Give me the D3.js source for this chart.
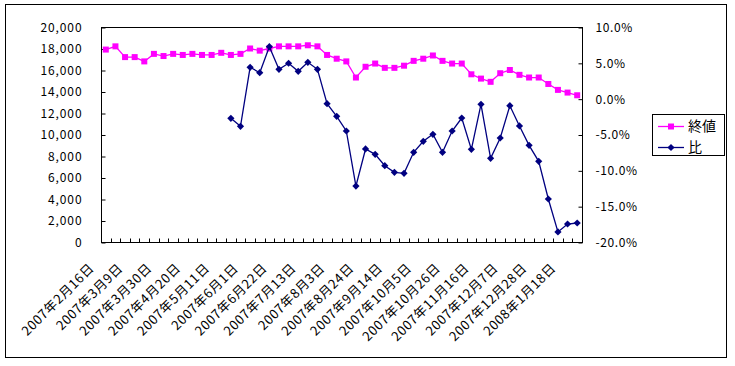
<!DOCTYPE html>
<html>
<head>
<meta charset="utf-8">
<script src="https://cdn.jsdelivr.net/npm/d3@7"></script>
<style>
  html, body { margin: 0; padding: 0; background: #fff; }
  svg { display: block; }
  text { font-family: "Noto Sans CJK JP", "Noto Sans", sans-serif; fill: #000; }
</style>
</head>
<body>
<svg id="chart" width="735" height="366"></svg>
<script>
// ---------- data ----------
const categories = [
  "2007年2月16日","2007年2月23日","2007年3月2日","2007年3月9日","2007年3月16日",
  "2007年3月23日","2007年3月30日","2007年4月6日","2007年4月13日","2007年4月20日",
  "2007年4月27日","2007年5月4日","2007年5月11日","2007年5月18日","2007年5月25日",
  "2007年6月1日","2007年6月8日","2007年6月15日","2007年6月22日","2007年6月29日",
  "2007年7月6日","2007年7月13日","2007年7月20日","2007年7月27日","2007年8月3日",
  "2007年8月10日","2007年8月17日","2007年8月24日","2007年8月31日","2007年9月7日",
  "2007年9月14日","2007年9月21日","2007年9月28日","2007年10月5日","2007年10月12日",
  "2007年10月19日","2007年10月26日","2007年11月2日","2007年11月9日","2007年11月16日",
  "2007年11月23日","2007年11月30日","2007年12月7日","2007年12月14日","2007年12月21日",
  "2007年12月28日","2008年1月4日","2008年1月11日","2008年1月18日","2008年1月25日"
];
const xTickLabels = [
  "2007年2月16日","2007年3月9日","2007年3月30日","2007年4月20日","2007年5月11日",
  "2007年6月1日","2007年6月22日","2007年7月13日","2007年8月3日","2007年8月24日",
  "2007年9月14日","2007年10月5日","2007年10月26日","2007年11月16日","2007年12月7日",
  "2007年12月28日","2008年1月18日"
];
// 終値 (left axis)
const closeValues = [
  17900, 18200, 17200, 17200, 16800, 17500, 17300, 17500, 17400, 17500,
  17400, 17400, 17600, 17400, 17500, 18000, 17800, 18000, 18200, 18200,
  18200, 18300, 18200, 17400, 17050, 16800, 15300, 16300, 16600, 16200,
  16200, 16400, 16850, 17050, 17350, 16850, 16600, 16600, 15600, 15200,
  14900, 15700, 16000, 15550, 15300, 15300, 14700, 14150, 13900, 13650
];
// 比 (right axis, percent)
const ratioValues = [
  null, null, null, null, null, null, null, null, null, null,
  null, null, null, -2.74, -3.86, 4.38, 3.62, 7.25, 4.10, 4.94,
  3.82, 5.07, 4.10, -0.70, -2.46, -4.51, -12.19, -7.02, -7.77, -9.35,
  -10.28, -10.42, -7.48, -5.95, -4.97, -7.48, -4.51, -2.70, -7.07, -0.79,
  -8.32, -5.49, -0.98, -3.81, -6.51, -8.74, -14.0, -18.6, -17.49, -17.35
];
const leftTicks = [0, 2000, 4000, 6000, 8000, 10000, 12000, 14000, 16000, 18000, 20000];
const rightTicks = [-20, -15, -10, -5, 0, 5, 10];
const seriesNames = ["終値", "比"];

// ---------- layout ----------
const svg = d3.select("#chart");
const L = 101, R = 582, T = 27, B = 242;
const pink = "#FF00FF", navy = "#000080";

// outer border
svg.append("rect").attr("x", 5.5).attr("y", 4.5).attr("width", 721).attr("height", 353)
  .attr("fill", "#fff").attr("stroke", "#000").attr("stroke-width", 1);

const x = d3.scaleBand().domain(categories).range([L, R]).padding(0);
const yL = d3.scaleLinear().domain([0, 20000]).range([B, T]);
const yR = d3.scaleLinear().domain([-20, 10]).range([B, T]);
const cx = c => x(c) + x.bandwidth() / 2;

// plot frame
svg.append("rect").attr("x", L + 0.5).attr("y", T + 0.5).attr("width", R - L).attr("height", B - T)
  .attr("fill", "none").attr("stroke", "#000").attr("stroke-width", 1);

// left axis
const axL = svg.append("g").attr("transform", `translate(${L + 0.5},0.5)`)
  .call(d3.axisLeft(yL).tickValues(leftTicks).tickSize(-4).tickPadding(19)
    .tickFormat(d3.format(",")));
axL.select(".domain").remove();
axL.selectAll("line").attr("stroke", "#000");
axL.selectAll("text").attr("font-size", 12).attr("letter-spacing", 0.9).attr("font-family", "Liberation Sans, Arial, sans-serif");

// right axis
const axR = svg.append("g").attr("transform", `translate(${R + 0.5},0.5)`)
  .call(d3.axisRight(yR).tickValues(rightTicks).tickSize(-4).tickPadding(13)
    .tickFormat(d => d.toFixed(1) + "%"));
axR.select(".domain").remove();
axR.selectAll("line").attr("stroke", "#000");
axR.selectAll("text").attr("font-size", 12).attr("letter-spacing", 0.6).attr("font-family", "Liberation Sans, Arial, sans-serif");

// bottom ticks at category boundaries
const bounds = categories.map(c => x(c)).concat([x(categories[categories.length - 1]) + x.bandwidth()]);
svg.append("g").selectAll("line").data(bounds).join("line")
  .attr("x1", d => Math.round(d) + 0.5).attr("x2", d => Math.round(d) + 0.5)
  .attr("y1", B + 0.5).attr("y2", B - 3.5).attr("stroke", "#000");

// x labels
svg.append("g").selectAll("text").data(xTickLabels).join("text")
  .attr("transform", d => `translate(${cx(d) - 11},269) rotate(-45)`)
  .attr("text-anchor", "end")
  .attr("font-size", 13)
  .attr("letter-spacing", 0.6)
  .text(d => d);

// 終値 line
const lineL = d3.line().x((d, i) => cx(categories[i])).y(d => yL(d));
svg.append("path").datum(closeValues).attr("d", lineL)
  .attr("fill", "none").attr("stroke", pink).attr("stroke-width", 1.3);
svg.append("g").selectAll("rect").data(closeValues).join("rect")
  .attr("x", (d, i) => cx(categories[i]) - 3).attr("y", d => yL(d) - 3)
  .attr("width", 6).attr("height", 6).attr("fill", pink);

// 比 line
const lineR = d3.line().defined(d => d != null).x((d, i) => cx(categories[i])).y(d => yR(d));
svg.append("path").datum(ratioValues).attr("d", lineR)
  .attr("fill", "none").attr("stroke", navy).attr("stroke-width", 1.3);
const diamond = d3.symbol().type(d3.symbolSquare).size(26);
svg.append("g").selectAll("path").data(ratioValues.map((v, i) => ({v, i})).filter(d => d.v != null)).join("path")
  .attr("d", diamond)
  .attr("transform", d => `translate(${cx(categories[d.i])},${yR(d.v)}) rotate(45)`)
  .attr("fill", navy);

// legend
const lg = svg.append("g");
lg.append("rect").attr("x", 652.5).attr("y", 114.5).attr("width", 72).attr("height", 41)
  .attr("fill", "#fff").attr("stroke", "#000");
const lgY = [126, 147];
const colors = [pink, navy];
seriesNames.forEach((name, k) => {
  lg.append("line").attr("x1", 658).attr("x2", 684).attr("y1", lgY[k] + 0.5).attr("y2", lgY[k] + 0.5)
    .attr("stroke", colors[k]).attr("stroke-width", 1.3);
  if (k === 0) {
    lg.append("rect").attr("x", 668).attr("y", lgY[k] - 2.5).attr("width", 6).attr("height", 6).attr("fill", pink);
  } else {
    lg.append("path").attr("d", diamond).attr("transform", `translate(671,${lgY[k] + 0.5}) rotate(45)`).attr("fill", navy);
  }
  lg.append("text").attr("x", 688).attr("y", lgY[k]).attr("dy", "0.36em")
    .attr("font-size", 14).text(name);
});
</script>
</body>
</html>
